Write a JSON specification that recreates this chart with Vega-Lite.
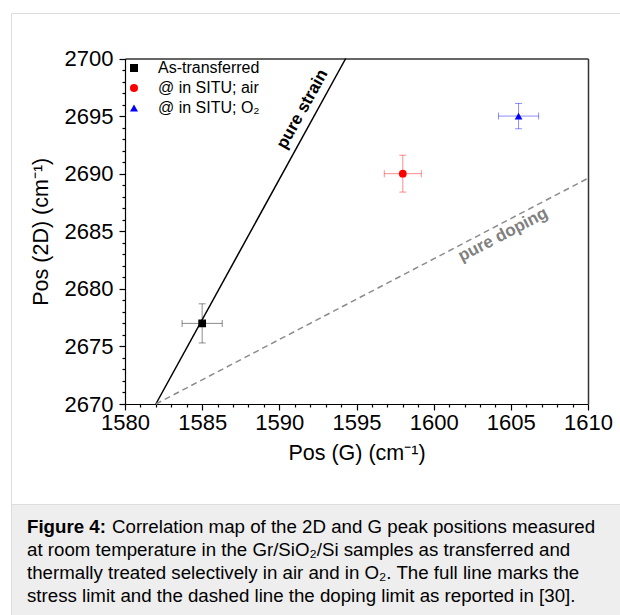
{
  "$schema": "https://vega.github.io/schema/vega-lite/v6.json",
  "padding": {"left": 10, "top": 12, "right": 0, "bottom": 0},
  "background": "white",
  "spacing": 0,
  "bounds": "flush",
  "vconcat": [
    {
      "width": 610,
      "height": 491,
      "view": {"stroke": "#dddddd", "strokeWidth": 1},
      "resolve": {"axis": {"x": "independent", "y": "independent"}},
      "layer": [
        {
          "encoding": {
            "x": {
              "field": "g", "type": "quantitative",
              "scale": {"domain": [1580, 1610], "range": [114, 577], "nice": false, "zero": false},
              "axis": {
                "orient": "bottom",
                "offset": -100,
                "title": "Pos (G) (cm⁻¹)",
                "values": [1580,1581,1582,1583,1584,1585,1586,1587,1588,1589,1590,1591,1592,1593,1594,1595,1596,1597,1598,1599,1600,1601,1602,1603,1604,1605,1606,1607,1608,1609,1610],
                "labelExpr": "datum.value % 5 === 0 ? '' + datum.value : ''",
                "tickSize": {"condition": {"test": "datum.value % 5 === 0", "value": 6}, "value": 3},
                "labelPadding": 2,
                "titlePadding": 9
              }
            },
            "y": {
              "field": "d2", "type": "quantitative",
              "scale": {"domain": [2670, 2700], "range": [391, 45.5], "nice": false, "zero": false},
              "axis": {
                "orient": "left",
                "offset": -114,
                "title": "Pos (2D) (cm⁻¹)",
                "values": [2670,2671,2672,2673,2674,2675,2676,2677,2678,2679,2680,2681,2682,2683,2684,2685,2686,2687,2688,2689,2690,2691,2692,2693,2694,2695,2696,2697,2698,2699,2700],
                "labelExpr": "datum.value % 5 === 0 ? '' + datum.value : ''",
                "tickSize": {"condition": {"test": "datum.value % 5 === 0", "value": 6}, "value": 3},
                "labelPadding": 6,
                "titlePadding": 12
              }
            }
          },
          "layer": [
            {
              "data": {"values": [{"g": 1582, "d2": 2670}, {"g": 1594.3, "d2": 2700}]},
              "mark": {"type": "line", "color": "#000000", "strokeWidth": 1.5}
            },
            {
              "data": {"name": "pts"},
              "resolve": {"legend": {"color": "independent", "shape": "independent"}},
              "layer": [
                {
                  "mark": {"type": "errorbar", "opacity": 0.45, "ticks": {"size": 7}},
                  "encoding": {
                    "xError": {"field": "gerr"},
                    "color": {"field": "sample", "type": "nominal", "legend": null}
                  }
                },
                {
                  "mark": {"type": "errorbar", "opacity": 0.45, "ticks": {"size": 7}},
                  "encoding": {
                    "yError": {"field": "derr"},
                    "color": {"field": "sample", "type": "nominal", "legend": null}
                  }
                },
                {
                  "mark": {"type": "point", "filled": true, "opacity": 1, "size": 60},
                  "encoding": {
                    "color": {
                      "field": "sample", "type": "nominal",
                      "scale": {"domain": ["As-transferred", "@ in SITU; air", "@ in SITU; O₂"], "range": ["#000000", "#ff0000", "#0000ff"]},
                      "legend": {"title": null, "orient": "none", "legendX": 115, "legendY": 47}
                    },
                    "shape": {
                      "field": "sample", "type": "nominal",
                      "scale": {"domain": ["As-transferred", "@ in SITU; air", "@ in SITU; O₂"], "range": ["square", "circle", "triangle-up"]},
                      "legend": {"title": null, "orient": "none", "legendX": 115, "legendY": 47}
                    }
                  }
                }
              ]
            },
            {
              "data": {"values": [{"g": 1591.5, "d2": 2695.6, "label": "pure strain"}]},
              "mark": {"type": "text", "angle": 299, "fontWeight": "bold", "fontSize": 17, "align": "center", "baseline": "middle", "color": "#000000"},
              "encoding": {"text": {"field": "label"}}
            },
            {
              "data": {"values": [{"g": 1604.5, "d2": 2684.7, "label": "pure doping"}]},
              "mark": {"type": "text", "angle": 332.5, "fontWeight": "bold", "fontSize": 17, "align": "center", "baseline": "middle", "color": "#808080"},
              "encoding": {"text": {"field": "label"}}
            }
          ]
        },
        {
          "data": {"values": [{"g": 1582, "d2": 2670}, {"g": 1610, "d2": 2689.6}]},
          "mark": {"type": "line", "color": "#8c8c8c", "strokeWidth": 1.5, "strokeDash": [6, 4]},
          "encoding": {
            "x": {
              "field": "g", "type": "quantitative",
              "axis": {"orient": "top", "offset": -45.5, "title": null, "labels": false, "ticks": false, "domainColor": "#333333", "domainWidth": 1.5}
            },
            "y": {
              "field": "d2", "type": "quantitative",
              "axis": {"orient": "right", "offset": -33, "title": null, "labels": false, "ticks": false, "domainColor": "#333333", "domainWidth": 1.5}
            }
          }
        }
      ]
    },
    {
      "width": 610,
      "height": 112,
      "view": {"fill": "#eeeeee", "stroke": "#dddddd"},
      "data": {"values": [
        {"line": 1, "part": "head", "text": "Figure 4:"},
        {"line": 1, "part": "rest", "text": "Correlation map of the 2D and G peak positions measured"},
        {"line": 2, "part": "body", "text": "at room temperature in the Gr/SiO₂/Si samples as transferred and"},
        {"line": 3, "part": "body", "text": "thermally treated selectively in air and in O₂. The full line marks the"},
        {"line": 4, "part": "body", "text": "stress limit and the dashed line the doping limit as reported in [30]."}
      ]},
      "encoding": {
        "y": {"field": "line", "type": "ordinal", "scale": {"type": "point", "domain": [1, 2, 3, 4], "range": [29, 98], "padding": 0}, "axis": null},
        "text": {"field": "text"}
      },
      "layer": [
        {
          "transform": [{"filter": "datum.part === 'head'"}],
          "mark": {"type": "text", "align": "left", "baseline": "alphabetic", "fontSize": 18.7, "fontWeight": "bold", "color": "#000000", "x": 16}
        },
        {
          "transform": [{"filter": "datum.part === 'rest'"}],
          "mark": {"type": "text", "align": "left", "baseline": "alphabetic", "fontSize": 18.7, "color": "#000000", "x": 101}
        },
        {
          "transform": [{"filter": "datum.part === 'body'"}],
          "mark": {"type": "text", "align": "left", "baseline": "alphabetic", "fontSize": 18.7, "color": "#000000", "x": 16}
        }
      ]
    }
  ],
  "datasets": {
    "pts": [
      {"sample": "As-transferred", "g": 1585, "d2": 2677, "gerr": 1.3, "derr": 1.7},
      {"sample": "@ in SITU; air", "g": 1598, "d2": 2690, "gerr": 1.2, "derr": 1.6},
      {"sample": "@ in SITU; O₂", "g": 1605.5, "d2": 2695, "gerr": 1.3, "derr": 1.1}
    ]
  },
  "config": {
    "font": "Liberation Sans",
    "axis": {
      "grid": false,
      "labelFontSize": 22,
      "titleFontSize": 21.5,
      "titleFontWeight": "normal",
      "labelColor": "#000000",
      "titleColor": "#000000",
      "domainColor": "#000000",
      "tickColor": "#000000",
      "domainWidth": 1.2,
      "tickWidth": 1.2,
      "labelFlush": false,
      "labelOverlap": false
    },
    "legend": {
      "labelFontSize": 16,
      "labelColor": "#000000",
      "symbolSize": 65,
      "rowPadding": 4,
      "labelOffset": 16,
      "symbolStrokeWidth": 0
    }
  }
}
